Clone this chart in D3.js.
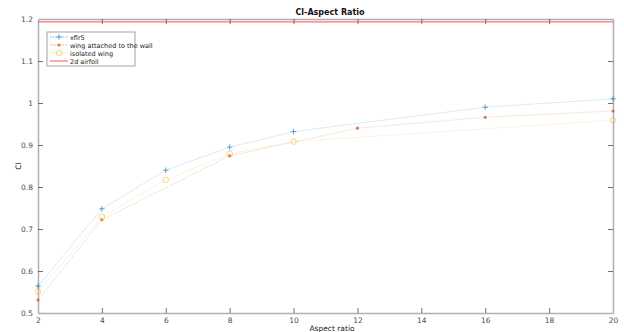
<!DOCTYPE html>
<html>
<head>
<meta charset="utf-8">
<script src="https://cdn.jsdelivr.net/npm/d3@7"></script>
<style>
  body { margin: 0; background: #fff; }
  text { font-family: "DejaVu Sans", sans-serif; }
</style>
</head>
<body>
<svg class="graphic"></svg>
<script>
// series data
var xfr5X = [2, 4, 6, 8, 10, 16, 20];
var xfr5Y = [0.564, 0.748, 0.840, 0.895, 0.932, 0.990, 1.010];
var wallX = [2, 4, 8, 12, 16, 20];
var wallY = [0.531, 0.722, 0.874, 0.940, 0.966, 0.981];
var isoX = [2, 4, 6, 8, 10, 20];
var isoY = [0.551, 0.729, 0.817, 0.879, 0.908, 0.959];
var airfoilCl = 1.193;
var xTicks = [2, 4, 6, 8, 10, 12, 14, 16, 18, 20];
var yTicks = [0.5, 0.6, 0.7, 0.8, 0.9, 1, 1.1, 1.2];
var legendNames = ["xflr5", "wing attached to the wall", "isolated wing", "2d airfoil"];

var W = 624, H = 332;
var margin = {top: 19, right: 11, bottom: 19, left: 38};

var svg = d3.select(".graphic").attr("width", W).attr("height", H);

var x = d3.scaleLinear().domain([2, 20]).range([margin.left, W - margin.right]);
var y = d3.scaleLinear().domain([0.5, 1.2]).range([H - margin.bottom, margin.top]);

var axisColor = "#b0b0b0",
    labelColor = "#4d4d4d",
    tickLen = 5;

// axes box with inward ticks on all four sides
function styleAxis(g) {
    g.select(".domain").attr("stroke", axisColor).attr("stroke-width", 1.5);
    g.selectAll(".tick line").attr("stroke", labelColor).attr("stroke-width", 0.8);
    g.selectAll(".tick text").attr("fill", labelColor).attr("font-size", 7.5);
}

svg.append("g")
    .attr("transform", "translate(0," + (H - margin.bottom) + ")")
    .call(d3.axisBottom(x).tickValues(xTicks).tickSize(-tickLen).tickSizeOuter(0).tickPadding(5))
    .call(styleAxis);

svg.append("g")
    .attr("transform", "translate(0," + margin.top + ")")
    .call(d3.axisTop(x).tickValues(xTicks).tickSize(-tickLen).tickSizeOuter(0).tickFormat(""))
    .call(styleAxis);

svg.append("g")
    .attr("transform", "translate(" + margin.left + ",0)")
    .call(d3.axisLeft(y).tickValues(yTicks).tickSize(-tickLen).tickSizeOuter(0).tickPadding(5).tickFormat(d3.format("")))
    .call(styleAxis);

svg.append("g")
    .attr("transform", "translate(" + (W - margin.right) + ",0)")
    .call(d3.axisRight(y).tickValues(yTicks).tickSize(-tickLen).tickSizeOuter(0).tickFormat(""))
    .call(styleAxis);

// remove tick marks that sit on the box corners
svg.selectAll(".tick").filter(function(d) { return d === 2 || d === 20 || d === 0.5 || d === 1.2; })
    .select("line").remove();

// series
var series = [
    {xs: xfr5X, ys: xfr5Y, colour: "#0072bd", marker: "plus"},
    {xs: wallX, ys: wallY, colour: "#d95319", marker: "star"},
    {xs: isoX, ys: isoY, colour: "#edb120", marker: "circle"}
];

var line = d3.line().x(function(d) { return x(d[0]); }).y(function(d) { return y(d[1]); });

function drawMarker(g, type, colour, cx, cy) {
    if (type === "plus") {
        g.append("path").attr("d", "M" + (cx - 2.8) + "," + cy + "h5.6M" + cx + "," + (cy - 2.8) + "v5.6")
            .attr("stroke", colour).attr("stroke-opacity", 0.75).attr("stroke-width", 0.8).attr("fill", "none");
    } else if (type === "star") {
        g.append("circle").attr("cx", cx).attr("cy", cy).attr("r", 1.6)
            .attr("fill", colour).attr("fill-opacity", 0.75).attr("stroke", "none");
    } else {
        g.append("circle").attr("cx", cx).attr("cy", cy).attr("r", 2.8)
            .attr("fill", "none").attr("stroke", colour).attr("stroke-opacity", 0.75).attr("stroke-width", 0.7);
    }
}

series.forEach(function(s) {
    var pts = s.xs.map(function(v, i) { return [v, s.ys[i]]; });
    svg.append("path")
        .datum(pts)
        .attr("d", line)
        .attr("fill", "none")
        .attr("stroke", s.colour)
        .attr("stroke-opacity", 0.3)
        .attr("stroke-width", 0.8)
        .attr("stroke-dasharray", "1.5,1");
    var g = svg.append("g");
    pts.forEach(function(p) { drawMarker(g, s.marker, s.colour, x(p[0]), y(p[1])); });
});

// 2d airfoil reference line
svg.append("line")
    .attr("x1", x(2)).attr("x2", x(20))
    .attr("y1", y(airfoilCl)).attr("y2", y(airfoilCl))
    .attr("stroke", "#ff4d4d").attr("stroke-opacity", 0.8).attr("stroke-width", 1.2);

// title and axis labels
svg.append("text").attr("x", 330).attr("y", 15).attr("text-anchor", "middle")
    .attr("font-size", 8).attr("font-weight", "bold").attr("fill", "#111").text("Cl-Aspect Ratio");

svg.append("text").attr("x", 332).attr("y", 330.5).attr("text-anchor", "middle")
    .attr("font-size", 7.5).attr("fill", "#222").text("Aspect ratio");

svg.append("text").attr("transform", "translate(21,166) rotate(-90)").attr("text-anchor", "middle")
    .attr("font-size", 7.5).attr("fill", "#222").text("Cl");

// legend
var legend = svg.append("g").attr("transform", "translate(47,32)");
legend.append("rect").attr("width", 88).attr("height", 34)
    .attr("fill", "#fff").attr("stroke", "#8c8c8c").attr("stroke-width", 0.8);

legendNames.forEach(function(name, i) {
    var ly = 5 + i * 8;
    var colour = i < 3 ? series[i].colour : "#ff4d4d";
    var item = legend.append("g");
    if (i < 3) {
        item.append("line").attr("x1", 3).attr("x2", 21).attr("y1", ly).attr("y2", ly)
            .attr("stroke", colour).attr("stroke-opacity", 0.6).attr("stroke-width", 0.8)
            .attr("stroke-dasharray", "1.5,1");
        drawMarker(item, series[i].marker, colour, 12, ly);
    } else {
        item.append("line").attr("x1", 3).attr("x2", 21).attr("y1", ly).attr("y2", ly)
            .attr("stroke", colour).attr("stroke-opacity", 0.8).attr("stroke-width", 1.2);
    }
    item.append("text").attr("x", 23).attr("y", ly + 2.5).attr("font-size", 6.5)
        .attr("fill", "#222").text(name);
});
</script>
</body>
</html>
